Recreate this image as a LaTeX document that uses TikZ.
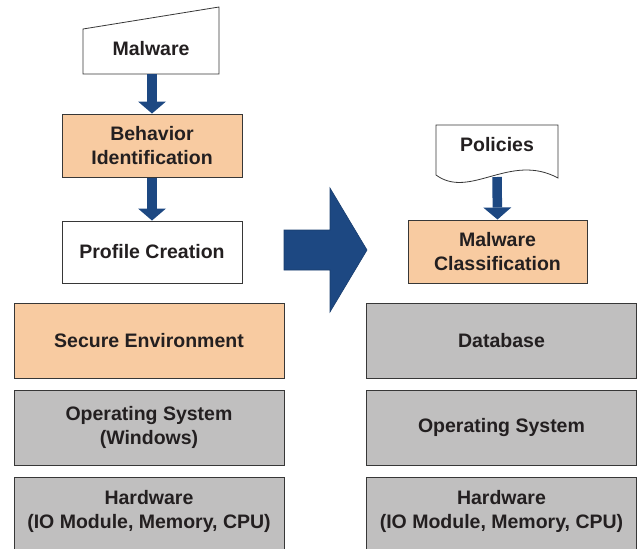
\documentclass[tikz,border=0pt]{standalone}
\usepackage{fontspec}
\setmainfont{Liberation Sans}
\usetikzlibrary{arrows.meta}
\definecolor{peach}{RGB}{248,203,161}
\definecolor{boxgray}{RGB}{192,191,191}
\definecolor{arrowblue}{RGB}{29,72,130}
\definecolor{edgecol}{RGB}{55,55,55}
\definecolor{txt}{RGB}{35,31,32}
\begin{document}
\begin{tikzpicture}[x=1pt,y=-1pt,
  lbl/.style={font=\bfseries\fontsize{19.5}{24}\selectfont, text=txt, align=center, inner sep=0pt},
  box/.style={lbl, draw=edgecol, line width=1pt, rectangle},
  peachbox/.style={box, fill=peach},
  graybox/.style={box, fill=boxgray},
  whitebox/.style={box, fill=white},
  flow/.style={draw=arrowblue, line width=9.5pt, -{Triangle[width=28pt,length=12pt,line width=0pt]}},
  outlineshape/.style={draw=edgecol, line width=0.8pt, fill=white}]
\useasboundingbox (0,0) rectangle (638,549);
\clip (0,0) rectangle (638,549);

% Malware (manual input shape)
\draw[outlineshape] (83,29) -- (219,7) -- (219,74) -- (83,74) -- cycle;
\node[lbl] (malware) at (151,49) {Malware};
\coordinate (malbot) at (152,74);

\node[peachbox, minimum width=180pt, minimum height=63pt] (behav) at (152,145.5) {Behavior\\Identification};
\node[whitebox, minimum width=180pt, minimum height=62pt] (profile) at (152,252) {Profile Creation};

\draw[flow] (malbot) -- (behav.north);
\draw[flow] (behav.south) -- (profile.north);

% left stack
\node[peachbox, minimum width=270pt, minimum height=75pt] (secure) at (149,340.5) {Secure Environment};
\node[graybox, minimum width=270pt, minimum height=75pt] (osl) at (149,427.5) {Operating System\\(Windows)};
\node[graybox, minimum width=270pt, minimum height=80pt] (hwl) at (149,517) {};
\node[lbl] (hwltext) at (149,511) {Hardware\\(IO Module, Memory, CPU)};

% big arrow
\fill[arrowblue, draw=arrowblue!85!black, line width=0.6pt] (284,230) -- (330,230) -- (330,188) -- (367,250) -- (330,312) -- (330,270) -- (284,270) -- cycle;

% Policies (document shape)
\draw[outlineshape] (436,125) -- (558,125) -- (558,178) .. controls (510,152) and (470,200) .. (436,175) -- cycle;
\node[lbl] (policies) at (497,145) {Policies};
\coordinate (polbot) at (497,177);

\node[peachbox, minimum width=179pt, minimum height=63pt] (mclass) at (497.5,251.5) {Malware\\Classification};
\draw[flow] (polbot) -- (mclass.north);

% right stack
\node[graybox, minimum width=270pt, minimum height=75pt] (db) at (501.5,340.5) {Database};
\node[graybox, minimum width=270pt, minimum height=75pt] (osr) at (501.5,427.5) {Operating System};
\node[graybox, minimum width=270pt, minimum height=80pt] (hwr) at (501.5,517) {};
\node[lbl] (hwrtext) at (501.5,511) {Hardware\\(IO Module, Memory, CPU)};
\end{tikzpicture}
\end{document}
